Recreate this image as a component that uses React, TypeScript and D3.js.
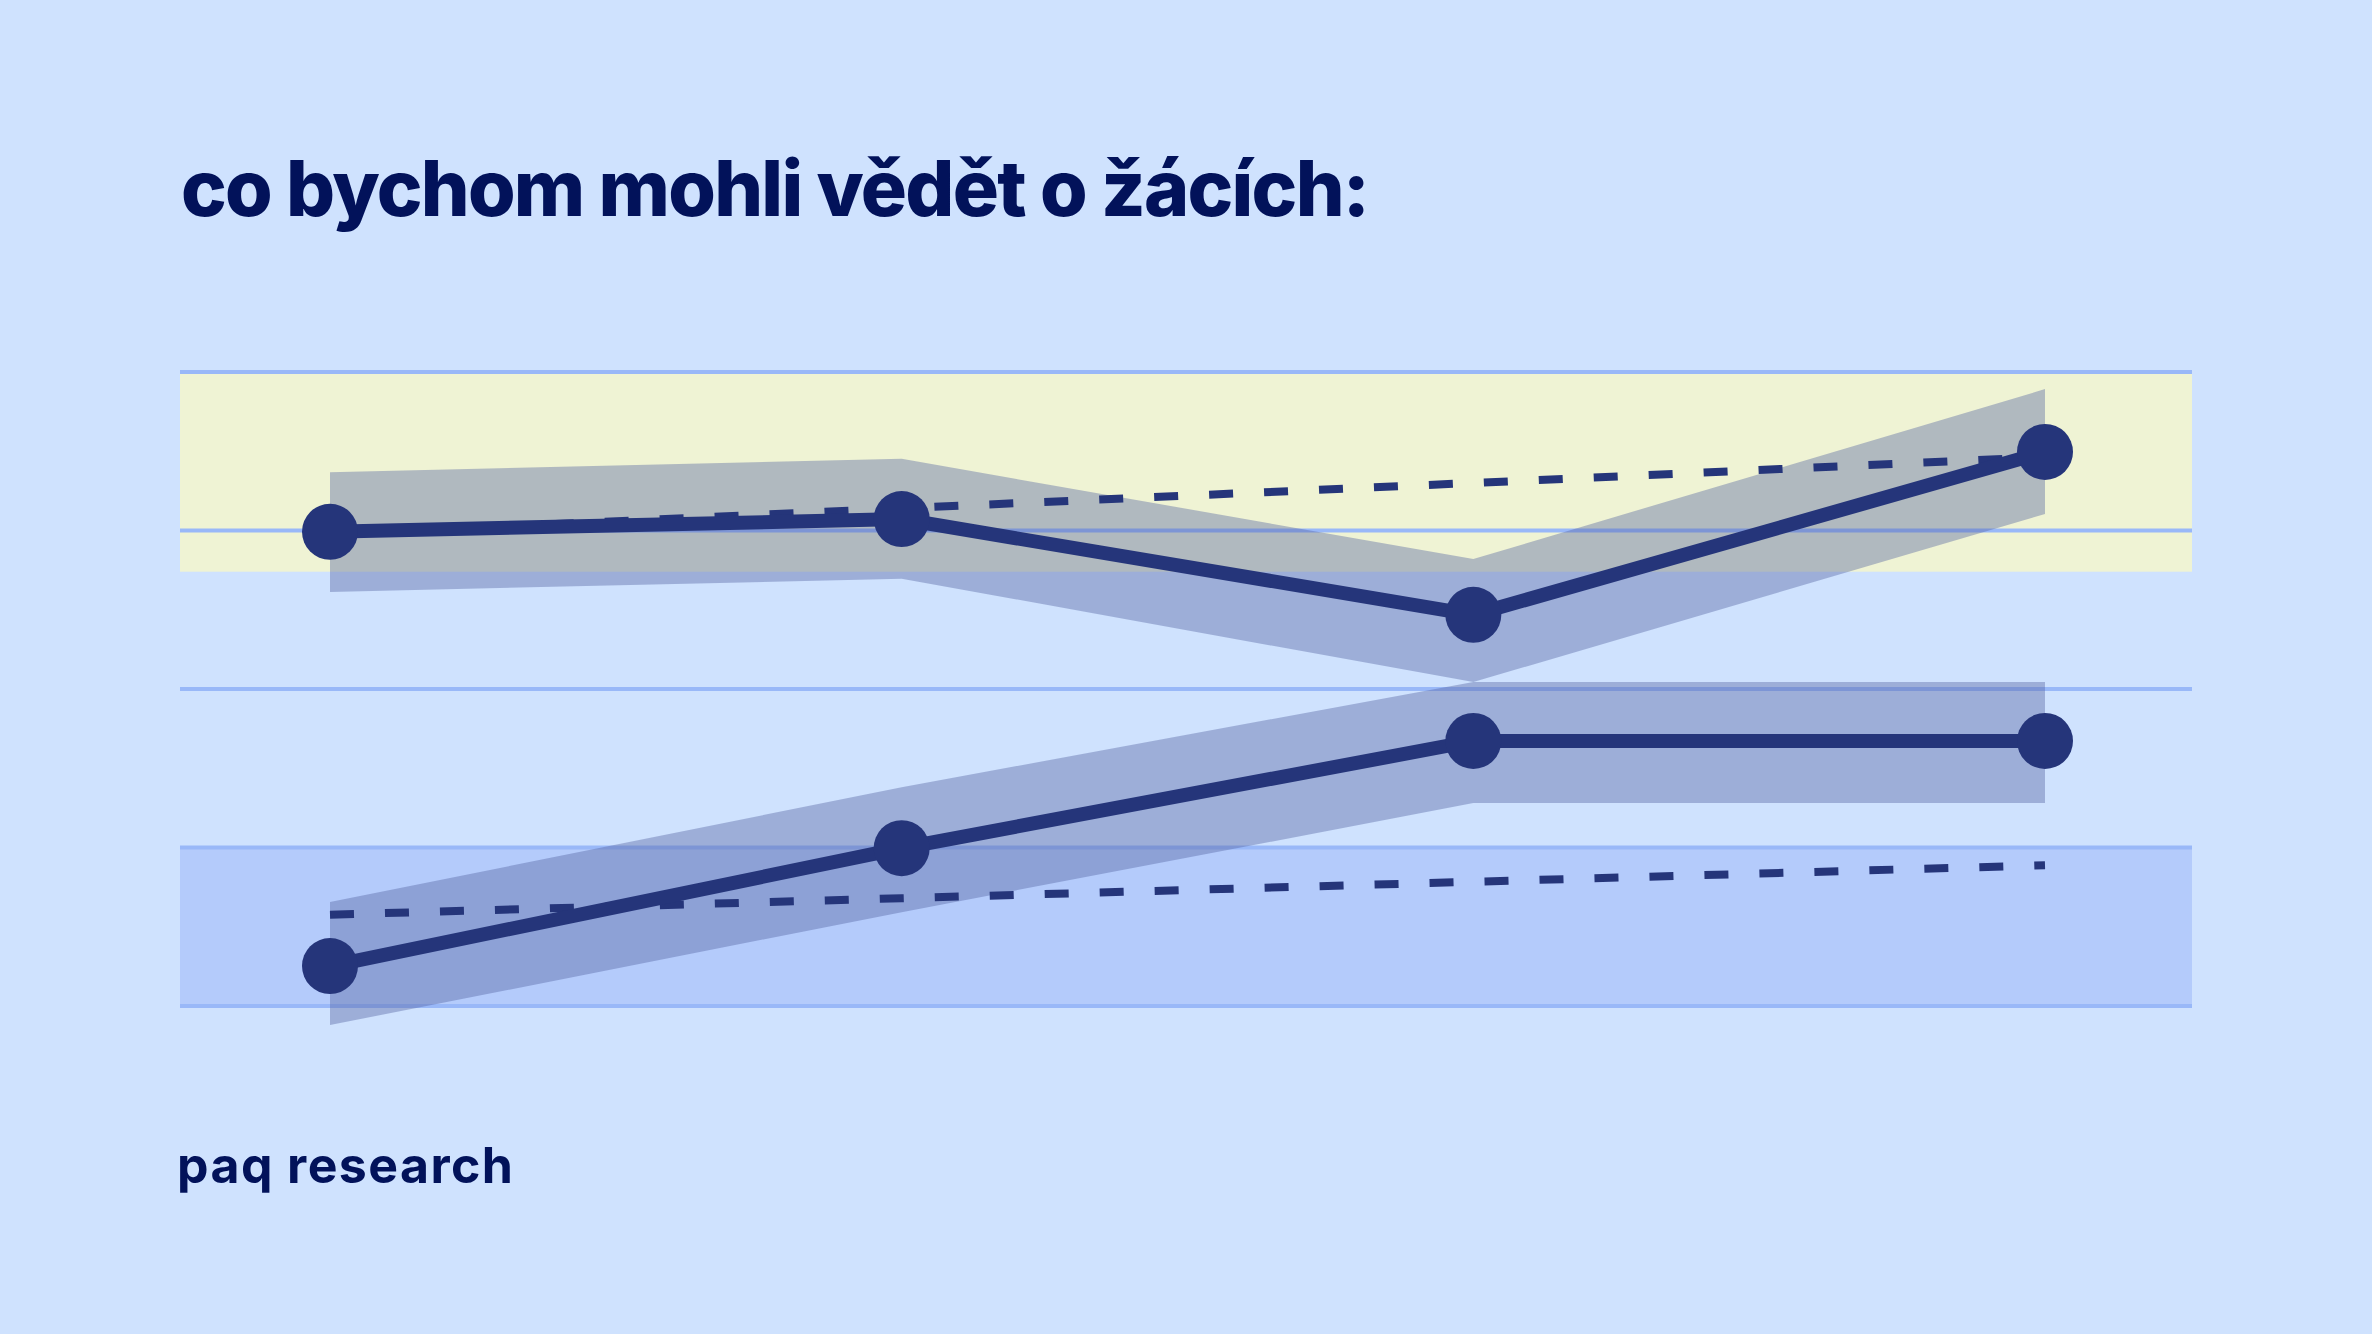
import { useMemo } from 'react';

import { area, line, scaleLinear, scalePoint } from 'd3';

// four survey waves, no labels shown on the chart
const waves = ['w1', 'w2', 'w3', 'w4'];

// upper group
const upperValues = [74.8, 76.8, 61.7, 87.4];
const upperLow = [65.3, 67.4, 51.1, 77.6];
const upperHigh = [84.2, 86.3, 70.5, 97.3];
const upperExpected = [74.4, 78.5, 82.5, 86.6];

// lower group
const lowerValues = [6.3, 24.9, 41.8, 41.8];
const lowerLow = [-3.0, 14.8, 32.0, 32.0];
const lowerHigh = [16.4, 34.5, 51.1, 51.1];
const lowerExpected = [14.4, 17.0, 19.6, 22.2];

const gridTicks = [0, 25, 50, 75, 100];
const yellowZone = [68.5, 100];
const blueZone = [0, 25];

const title = 'co bychom mohli vědět o žácích:';
const footer = 'paq research';

const W = 2372,
  H = 1334;

const navy = '#25357a';

export default function App() {
  const x = useMemo(
    () => scalePoint<string>().domain(waves).range([330, 2045]),
    []
  );
  const y = useMemo(() => scaleLinear().domain([0, 100]).range([1006, 372]), []);

  const makeBand = (low: number[], high: number[]) =>
    area<number>()
      .x((_, i) => x(waves[i]) as number)
      .y0((_, i) => y(low[i]))
      .y1((_, i) => y(high[i]))(low) || '';

  const makeLine = (vals: number[]) =>
    line<number>()
      .x((_, i) => x(waves[i]) as number)
      .y((d) => y(d))(vals) || '';

  const gridLeft = 180,
    gridRight = 2192;

  const series = [
    { values: upperValues, low: upperLow, high: upperHigh, expected: upperExpected },
    { values: lowerValues, low: lowerLow, high: lowerHigh, expected: lowerExpected },
  ];

  return (
    <svg
      width={W}
      height={H}
      style={{ position: 'absolute', left: 0, top: 0, display: 'block' }}
    >
      <rect width={W} height={H} fill="#cfe2fe" />

      <text
        x={181}
        y={216}
        fontFamily="Inter, 'Noto Sans', sans-serif"
        fontWeight={800}
        fontSize={77}
        fill="#02125a"
        textLength={1189}
        lengthAdjust="spacing"
      >
        {title}
      </text>

      <g className="zones">
        <rect
          x={gridLeft}
          width={gridRight - gridLeft}
          y={y(yellowZone[1])}
          height={y(yellowZone[0]) - y(yellowZone[1])}
          fill="#eff3d4"
        />
        <rect
          x={gridLeft}
          width={gridRight - gridLeft}
          y={y(blueZone[1])}
          height={y(blueZone[0]) - y(blueZone[1])}
          fill="#b4cbfb"
        />
      </g>

      <g className="grid">
        {gridTicks.map((t) => (
          <line
            key={t}
            x1={gridLeft}
            x2={gridRight}
            y1={y(t)}
            y2={y(t)}
            stroke="#99b8f8"
            strokeWidth={4}
          />
        ))}
      </g>

      <g className="bands">
        {series.map((s, i) => (
          <path key={i} d={makeBand(s.low, s.high)} fill="#52629f" fillOpacity={0.4} />
        ))}
      </g>

      <g className="expected">
        {series.map((s, i) => (
          <path
            key={i}
            d={makeLine(s.expected)}
            fill="none"
            stroke={navy}
            strokeWidth={8}
            strokeDasharray="24 31"
          />
        ))}
      </g>

      <g className="lines">
        {series.map((s, i) => (
          <g key={i}>
            <path d={makeLine(s.values)} fill="none" stroke={navy} strokeWidth={14} />
            {s.values.map((v, j) => (
              <circle key={j} cx={x(waves[j])} cy={y(v)} r={28} fill={navy} />
            ))}
          </g>
        ))}
      </g>

      <text
        x={177}
        y={1183}
        fontFamily="Inter, 'Noto Sans', sans-serif"
        fontWeight={700}
        fontSize={50}
        fill="#02125a"
        textLength={336}
        lengthAdjust="spacing"
      >
        {footer}
      </text>
    </svg>
  );
}
